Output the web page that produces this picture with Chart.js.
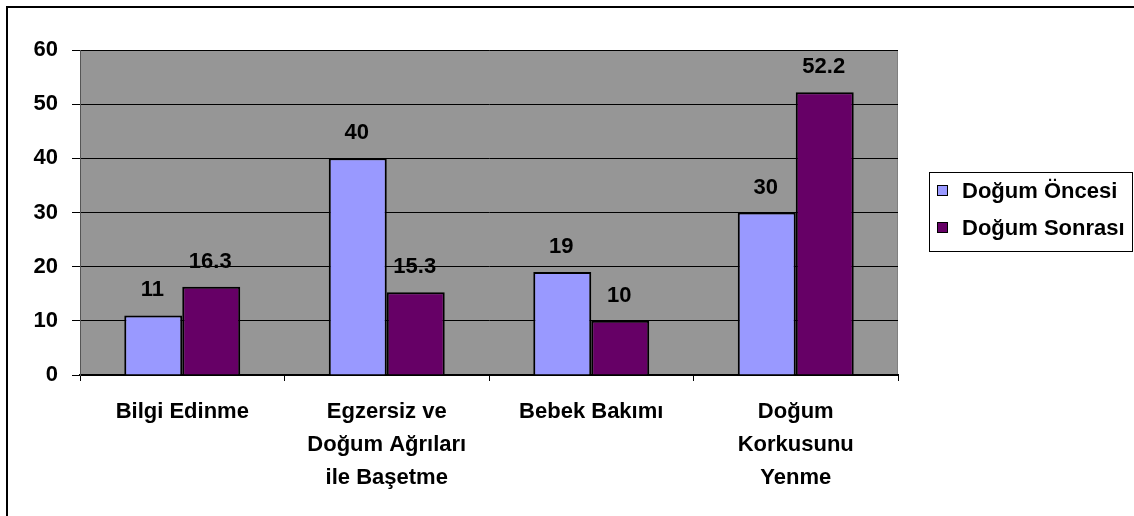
<!DOCTYPE html>
<html lang="tr">
<head>
  <meta charset="UTF-8">
  <title>Doğum Öncesi / Sonrası</title>
  <script src="https://cdn.jsdelivr.net/npm/chart.js"></script>
  <style>
    html, body { margin: 0; padding: 0; background: #fff; }
    canvas { display: block; }
  </style>
</head>
<body>
  <canvas id="chart" width="1134" height="516"></canvas>
  <script>
    // data
    const categories = [
      ['Bilgi Edinme'],
      ['Egzersiz ve', 'Doğum Ağrıları', 'ile Başetme'],
      ['Bebek Bakımı'],
      ['Doğum', 'Korkusunu', 'Yenme']
    ];
    const seriesNames = ['Doğum Öncesi', 'Doğum Sonrası'];
    const oncesi = [11, 40, 19, 30];
    const sonrasi = [16.3, 15.3, 10, 52.2];
    const valueLabels = [['11', '40', '19', '30'], ['16.3', '15.3', '10', '52.2']];

    const FONT = 'Arial, "Liberation Sans", sans-serif';

    // gray plot area + outer frame
    const background = {
      id: 'background',
      beforeDraw(chart) {
        const { ctx, chartArea: a } = chart;
        ctx.save();
        ctx.fillStyle = '#fff';
        ctx.fillRect(0, 0, chart.width, chart.height);
        ctx.strokeStyle = '#000';
        ctx.lineWidth = 2;
        ctx.beginPath();
        ctx.moveTo(7, chart.height + 5);
        ctx.lineTo(7, 7);
        ctx.lineTo(chart.width + 5, 7);
        ctx.stroke();
        ctx.fillStyle = '#969696';
        ctx.fillRect(a.left, a.top, a.right - a.left, a.bottom - a.top);
        ctx.strokeStyle = '#808080';
        ctx.lineWidth = 1;
        ctx.strokeRect(a.left + 0.5, a.top + 0.5, a.right - a.left - 1, a.bottom - a.top - 1);
        ctx.restore();
      }
    };

    // numbers above the bars
    const barLabels = {
      id: 'barLabels',
      afterDatasetsDraw(chart) {
        const { ctx } = chart;
        ctx.save();
        ctx.font = 'bold 22px ' + FONT;
        ctx.fillStyle = '#000';
        ctx.textAlign = 'center';
        ctx.textBaseline = 'alphabetic';
        chart.data.datasets.forEach((ds, i) => {
          chart.getDatasetMeta(i).data.forEach((bar, j) => {
            ctx.fillText(valueLabels[i][j], bar.x - 1, bar.y - 19);
          });
        });
        ctx.restore();
      }
    };

    // boxed legend on the right
    const boxLegend = {
      id: 'boxLegend',
      afterDraw(chart) {
        const { ctx } = chart;
        const x = 929.5, y = 172.5, w = 203, h = 79;
        ctx.save();
        ctx.fillStyle = '#fff';
        ctx.fillRect(x, y, w, h);
        ctx.strokeStyle = '#000';
        ctx.lineWidth = 1;
        ctx.strokeRect(x, y, w, h);
        ctx.font = 'bold 22px ' + FONT;
        ctx.textBaseline = 'middle';
        ctx.textAlign = 'left';
        chart.data.datasets.forEach((ds, i) => {
          const cy = 191 + i * 37;
          ctx.fillStyle = ds.backgroundColor;
          ctx.fillRect(937.5, cy - 5.5, 10, 10);
          ctx.strokeRect(937.5, cy - 5.5, 10, 10);
          ctx.fillStyle = '#000';
          ctx.fillText(ds.label, 962, cy + 1);
        });
        ctx.restore();
      }
    };

    new Chart(document.getElementById('chart'), {
      type: 'bar',
      data: {
        labels: categories,
        datasets: [
          {
            label: seriesNames[0],
            data: oncesi,
            backgroundColor: '#9999FF',
            borderColor: '#000',
            borderWidth: 2,
            categoryPercentage: 0.567,
            barPercentage: 1
          },
          {
            label: seriesNames[1],
            data: sonrasi,
            backgroundColor: '#660066',
            borderColor: '#000',
            borderWidth: 2,
            categoryPercentage: 0.567,
            barPercentage: 1
          }
        ]
      },
      options: {
        responsive: false,
        animation: false,
        layout: { padding: { top: 50, right: 236, left: 0, bottom: 0 } },
        plugins: {
          legend: { display: false },
          tooltip: { enabled: false }
        },
        scales: {
          x: {
            afterFit(s) { s.height = 141; },
            grid: {
              offset: true,
              drawOnChartArea: false,
              color: '#000',
              tickLength: 6
            },
            border: { color: '#000', width: 2 },
            ticks: {
              color: '#000',
              padding: 14,
              maxRotation: 0,
              font: { family: FONT, size: 22, weight: 'bold', lineHeight: 1.5 }
            }
          },
          y: {
            min: 0,
            max: 60,
            afterFit(s) { s.width = 80; },
            grid: { color: '#000', tickLength: 8 },
            border: { color: '#555', width: 1 },
            ticks: {
              stepSize: 10,
              color: '#000',
              padding: 14,
              font: { family: FONT, size: 22, weight: 'bold' }
            }
          }
        }
      },
      plugins: [background, barLabels, boxLegend]
    });
  </script>
</body>
</html>
